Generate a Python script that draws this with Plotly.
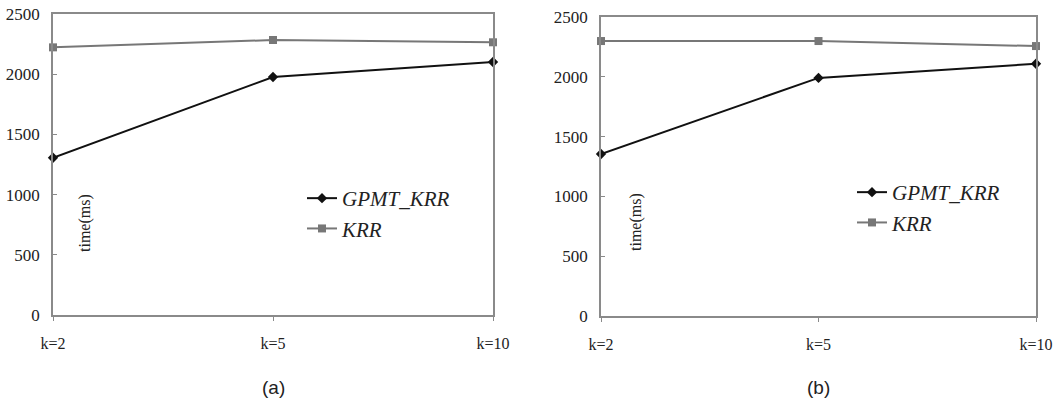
import plotly.graph_objects as go

categories = ["k=2", "k=5", "k=10"]
x_pos = [0, 1, 2]
gpmt_a = [1306, 1977, 2101]
krr_a = [2223, 2284, 2265]
gpmt_b = [1354, 1991, 2109]
krr_b = [2299, 2299, 2257]
y_ticks = [0, 500, 1000, 1500, 2000, 2500]
panel_labels = ["(a)", "(b)"]

W, H = 1060, 402
SERIF = "Liberation Serif"
SANS = "Liberation Sans"
TXT = "#222222"
AX = "#8a8a8a"

fig = go.Figure()

panels = [
    dict(gpmt=gpmt_a, krr=krr_a, xd=(53, 493), yd=(14, 315), xa="x", ya="y", leg="legend",
         legpos=(302, 178), ylab=(85, 223), lab=panel_labels[0]),
    dict(gpmt=gpmt_b, krr=krr_b, xd=(601, 1036), yd=(17, 316), xa="x2", ya="y2", leg="legend2",
         legpos=(852, 172), ylab=(636, 222), lab=panel_labels[1]),
]

for i, p in enumerate(panels):
    fig.add_trace(go.Scatter(
        x=x_pos, y=p["gpmt"], mode="lines+markers", name="GPMT_KRR",
        line=dict(color="#111111", width=2),
        marker=dict(symbol="diamond", size=8, color="#111111"),
        xaxis=p["xa"], yaxis=p["ya"], legend=p["leg"], cliponaxis=False,
        legendgroup="g%d" % i))
    fig.add_trace(go.Scatter(
        x=x_pos, y=p["krr"], mode="lines+markers", name="KRR",
        line=dict(color="#777777", width=2),
        marker=dict(symbol="square", size=8, color="#777777"),
        xaxis=p["xa"], yaxis=p["ya"], legend=p["leg"], cliponaxis=False,
        legendgroup="k%d" % i))

layout = dict(
    template="none",
    width=W, height=H, margin=dict(l=0, r=0, t=0, b=0, autoexpand=False),
    paper_bgcolor="white", plot_bgcolor="white",
    showlegend=True,
)

for i, p in enumerate(panels):
    sfx = "" if i == 0 else str(i + 1)
    layout["xaxis" + sfx] = dict(
        domain=[p["xd"][0] / W, p["xd"][1] / W], anchor="y" + sfx, automargin=False,
        range=[0, 2], tickvals=x_pos, ticktext=categories,
        showgrid=False, zeroline=False, showline=True, linecolor=AX, linewidth=1.5,
        mirror=True, ticks="outside", ticklen=4, tickcolor=AX,
        tickfont=dict(family=SERIF, size=16, color=TXT), ticklabelstandoff=9,
    )
    layout["yaxis" + sfx] = dict(
        domain=[1 - p["yd"][1] / H, 1 - p["yd"][0] / H], anchor="x" + sfx, automargin=False,
        range=[0, 2500], tickvals=y_ticks,
        showgrid=False, zeroline=False, showline=True, linecolor=AX, linewidth=1.5,
        mirror=True, ticks="inside", ticklen=4, tickcolor=AX,
        tickfont=dict(family=SERIF, size=17, color=TXT), ticklabelstandoff=8,
    )
    layout["legend" + sfx] = dict(
        x=p["legpos"][0] / W, y=1 - p["legpos"][1] / H, xanchor="left", yanchor="top",
        bgcolor="rgba(0,0,0,0)", borderwidth=0,
        font=dict(family=SERIF, size=21, color=TXT, style="italic"),
        traceorder="grouped", tracegroupgap=0, itemwidth=30,
    )

fig.update_layout(**layout)

annotations = []
for p in panels:
    annotations.append(dict(
        x=p["ylab"][0] / W, y=1 - p["ylab"][1] / H, xref="paper", yref="paper",
        text="time(ms)", textangle=-90, showarrow=False,
        font=dict(family=SERIF, size=16, color=TXT), xanchor="center", yanchor="middle"))
    annotations.append(dict(
        x=(p["xd"][0] + p["xd"][1]) / 2 / W, y=1 - 387 / H, xref="paper", yref="paper",
        text=p["lab"], showarrow=False,
        font=dict(family=SANS, size=19, color=TXT), xanchor="center", yanchor="middle"))
fig.update_layout(annotations=annotations)

fig.write_html("out.html")
